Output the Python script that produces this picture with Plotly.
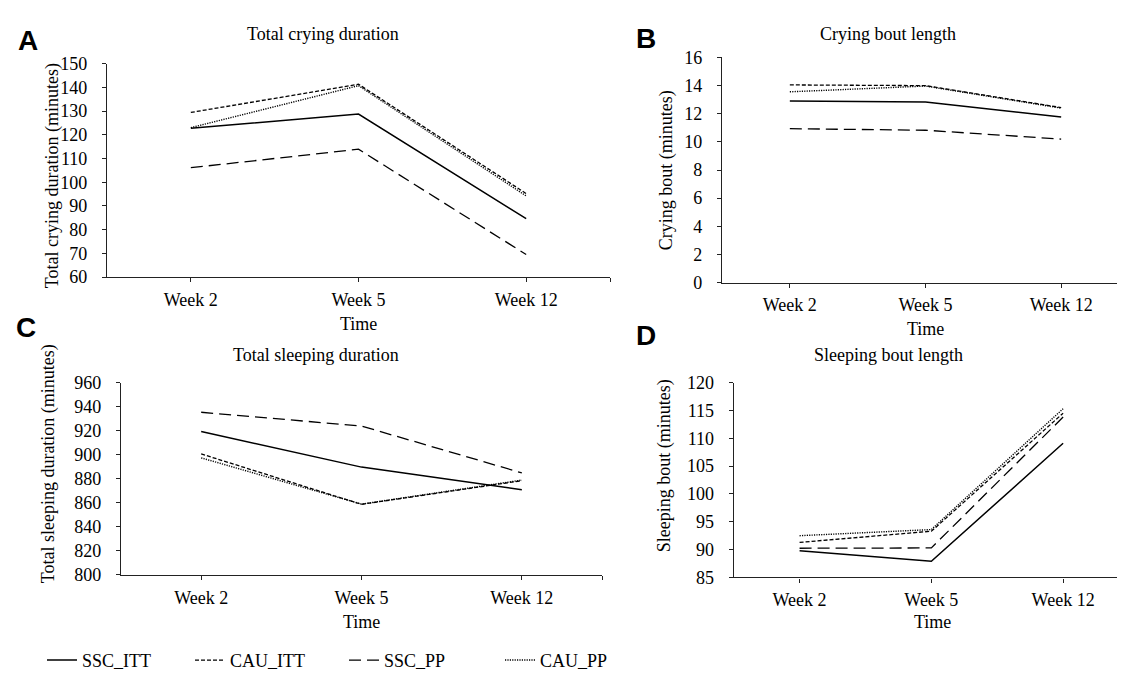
import plotly.graph_objects as go

W, H = 1125, 673
weeks = ["Week 2", "Week 5", "Week 12"]
series_names = ["SSC_ITT", "CAU_ITT", "SSC_PP", "CAU_PP"]

# Panel A: Total crying duration
crying_total_ssc_itt = [122.7, 128.7, 84.6]
crying_total_cau_itt = [129.4, 141.3, 95.2]
crying_total_ssc_pp = [106.1, 113.9, 69.5]
crying_total_cau_pp = [123.0, 140.7, 94.2]
# Panel B: Crying bout length
crying_bout_ssc_itt = [12.9, 12.83, 11.77]
crying_bout_cau_itt = [14.05, 14.0, 12.44]
crying_bout_ssc_pp = [10.94, 10.83, 10.2]
crying_bout_cau_pp = [13.56, 13.97, 12.4]
# Panel C: Total sleeping duration
sleep_total_ssc_itt = [919.5, 889.8, 871.0]
sleep_total_cau_itt = [900.8, 858.8, 878.5]
sleep_total_ssc_pp = [935.5, 924.0, 885.0]
sleep_total_cau_pp = [897.5, 859.0, 879.0]
# Panel D: Sleeping bout length
sleep_bout_ssc_itt = [89.8, 87.9, 109.1]
sleep_bout_cau_itt = [91.3, 93.3, 114.5]
sleep_bout_ssc_pp = [90.25, 90.3, 113.8]
sleep_bout_cau_pp = [92.5, 93.6, 115.3]

panels = [
    dict(key="A", title="Total crying duration", ytitle="Total crying duration (minutes)",
         data=[crying_total_ssc_itt, crying_total_cau_itt, crying_total_ssc_pp, crying_total_cau_pp],
         yrange=[60, 150], dtick=10, box=(99, 602, 47, 267),
         title_pos=(315, 17), xt_pos=(350, 315), yt_pos=(44, 163), letter_pos=(20, 23)),
    dict(key="B", title="Crying bout length", ytitle="Crying bout (minutes)",
         data=[crying_bout_ssc_itt, crying_bout_cau_itt, crying_bout_ssc_pp, crying_bout_cau_pp],
         yrange=[0, 16], dtick=2, box=(714, 1121, 40.7, 272.7),
         title_pos=(880, 16), xt_pos=(918, 321), yt_pos=(658, 157), letter_pos=(638, 21)),
    dict(key="C", title="Total sleeping duration", ytitle="Total sleeping duration (minutes)",
         data=[sleep_total_ssc_itt, sleep_total_cau_itt, sleep_total_ssc_pp, sleep_total_cau_pp],
         yrange=[800, 960], dtick=20, box=(113, 594, 376, 574),
         title_pos=(308, 347), xt_pos=(353, 622), yt_pos=(40, 460), letter_pos=(18, 319)),
    dict(key="D", title="Sleeping bout length", ytitle="Sleeping bout (minutes)",
         data=[sleep_bout_ssc_itt, sleep_bout_cau_itt, sleep_bout_ssc_pp, sleep_bout_cau_pp],
         yrange=[85, 120], dtick=5, box=(725.7, 1121, 375.7, 576.6),
         title_pos=(880, 347), xt_pos=(924, 623), yt_pos=(656, 462), letter_pos=(638, 327)),
]

styles = [
    dict(dash="solid", width=1.5),
    dict(dash="4px,2px", width=1.3),
    dict(dash="12px,6px", width=1.3),
    dict(dash="1.2px,1.2px", width=1.4),
]

FONT = "Liberation Serif, Times New Roman, serif"
FS = 18
AXC = "#222222"

fig = go.Figure()
xidx = list(range(len(weeks)))
legend_x = [34, 182, 336, 492]
annotations = []
layout = {}

for i, p in enumerate(panels):
    n = "" if i == 0 else str(i + 1)
    for j, (name, vals) in enumerate(zip(series_names, p["data"])):
        tr = dict(x=xidx, y=vals, mode="lines", name=name,
                  line=dict(color="black", **styles[j]),
                  xaxis="x" + n, yaxis="y" + n,
                  showlegend=(i == 0), hoverinfo="skip")
        if i == 0:
            tr["legend"] = "legend" if j == 0 else "legend%d" % (j + 1)
        fig.add_trace(go.Scatter(**tr))
    x0, x1, y0, y1 = p["box"]
    layout["xaxis" + n] = dict(
        domain=[x0 / W, x1 / W], anchor="y" + n, range=[-0.5, 2.5],
        tickmode="array", tickvals=[0, 1, 2, 2.5], ticktext=weeks + [""],
        ticks="outside", ticklen=4, tickcolor=AXC, showline=True, linecolor=AXC,
        linewidth=1.2, showgrid=False, zeroline=False, ticklabelstandoff=2,
        tickfont=dict(family=FONT, size=FS, color="black"), fixedrange=True)
    layout["yaxis" + n] = dict(
        domain=[1 - y1 / H, 1 - y0 / H], anchor="x" + n, range=p["yrange"],
        dtick=p["dtick"], tick0=p["yrange"][0],
        ticks="outside", ticklen=4, tickcolor=AXC, showline=True, linecolor=AXC,
        linewidth=1.2, showgrid=False, zeroline=False, ticklabelstandoff=11,
        tickfont=dict(family=FONT, size=FS, color="black"), fixedrange=True)
    tx, ty = p["title_pos"]
    annotations.append(dict(text=p["title"], x=tx / W, y=1 - ty / H, xref="paper", yref="paper",
                            showarrow=False, font=dict(family=FONT, size=FS, color="black"),
                            xanchor="center", yanchor="middle"))
    tx, ty = p["xt_pos"]
    annotations.append(dict(text="Time", x=tx / W, y=1 - ty / H, xref="paper", yref="paper",
                            showarrow=False, font=dict(family=FONT, size=FS, color="black"),
                            xanchor="center", yanchor="middle"))
    tx, ty = p["yt_pos"]
    annotations.append(dict(text=p["ytitle"], x=tx / W, y=1 - ty / H, xref="paper", yref="paper",
                            showarrow=False, textangle=-90,
                            font=dict(family=FONT, size=FS, color="black"),
                            xanchor="center", yanchor="middle"))
    tx, ty = p["letter_pos"]
    annotations.append(dict(text="<b>%s</b>" % p["key"], x=tx / W, y=1 - ty / H, xref="paper",
                            yref="paper", showarrow=False,
                            font=dict(family="Liberation Sans, Arial, sans-serif", size=28, color="black"),
                            xanchor="center", yanchor="middle"))

for j in range(4):
    key = "legend" if j == 0 else "legend%d" % (j + 1)
    layout[key] = dict(x=legend_x[j] / W, y=1 - 662 / H, xanchor="left", yanchor="middle",
                       orientation="h", bgcolor="rgba(0,0,0,0)",
                       font=dict(family=FONT, size=FS, color="black"))

fig.update_layout(
    width=W, height=H, margin=dict(l=0, r=0, t=0, b=0),
    paper_bgcolor="white", plot_bgcolor="white",
    annotations=annotations, **layout)

fig.write_html("out.html")
